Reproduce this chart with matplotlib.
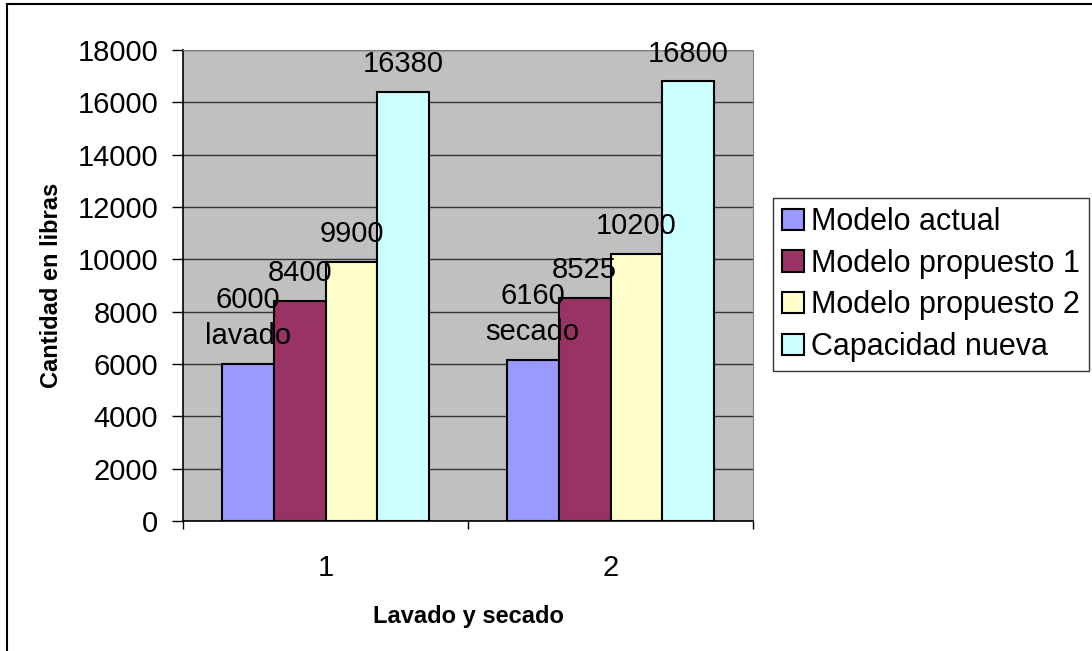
import matplotlib.pyplot as plt
from matplotlib.patches import Rectangle
import numpy as np

plt.rcParams['font.family'] = ['Liberation Sans', 'DejaVu Sans']

# Data
categorias = ['1', '2']
etiquetas_grupo = ['lavado', 'secado']
series = ['Modelo actual', 'Modelo propuesto 1', 'Modelo propuesto 2', 'Capacidad nueva']
modelo_actual = [6000, 6160]
propuesto_1 = [8400, 8525]
propuesto_2 = [9900, 10200]
capacidad_nueva = [16380, 16800]
colores = ['#9999FF', '#993366', '#FFFFCC', '#CCFFFF']

valores = [modelo_actual, propuesto_1, propuesto_2, capacidad_nueva]

fig = plt.figure(figsize=(10.92, 6.51), dpi=100)
ax = fig.add_axes([0.1676, 0.1997, 0.5220, 0.7235])
ax.set_facecolor('#C0C0C0')

x = np.arange(1, len(categorias) + 1)
ancho = 0.182
for i, (nombre, vals, col) in enumerate(zip(series, valores, colores)):
    pos = x + (i - 1.5) * ancho
    ax.bar(pos, vals, width=ancho, color=col, edgecolor='black',
           linewidth=1.5, label=nombre, zorder=3)
    for j, (px, v) in enumerate(zip(pos, vals)):
        texto = f'{v}\n{etiquetas_grupo[j]}' if i == 0 else f'{v}'
        ax.annotate(texto, (px, v), xytext=(0, 10), textcoords='offset points',
                    ha='center', va='bottom', fontsize=21, linespacing=1.35,
                    zorder=4)

ax.set_xlim(0.5, 2.5)
ax.set_ylim(0, 18000)
ax.set_yticks(np.arange(0, 18001, 2000))
ax.yaxis.grid(True, color='#333333', linewidth=1)
ax.set_axisbelow(True)

ax.set_xticks([0.5, 1.5, 2.5])
ax.set_xticklabels([])
ax.set_xticks(x, minor=True)
ax.set_xticklabels(categorias, minor=True)
ax.tick_params(axis='x', which='major', direction='out', length=6, width=1)
ax.tick_params(axis='x', which='minor', length=0, pad=24, labelsize=21)
ax.tick_params(axis='y', direction='out', length=8, width=1, pad=10, labelsize=21)

for s in ['top', 'right']:
    ax.spines[s].set_color('#808080')
for s in ['left', 'bottom']:
    ax.spines[s].set_color('black')
    ax.spines[s].set_linewidth(1.2)

ax.set_xlabel('Lavado y secado', fontsize=17, fontweight='bold', labelpad=16)
ax.set_ylabel('Cantidad en libras', fontsize=17, fontweight='bold', labelpad=10)

leg = ax.legend(loc='upper left', bbox_to_anchor=(0.708, 0.696),
                bbox_transform=fig.transFigure, fontsize=22, frameon=True,
                fancybox=False, edgecolor='black', handlelength=0.7,
                handleheight=0.7, handletextpad=0.23, labelspacing=0.38,
                borderpad=0.3, borderaxespad=0)
leg.get_frame().set_linewidth(1)

# Outer border of the chart (only left and top edges fall inside the image)
fig.patches.append(Rectangle((0.006, -0.1), 1.2, 1.1 - 0.0065, transform=fig.transFigure,
                             fill=False, edgecolor='black', linewidth=1.5))

fig.savefig('out.png', dpi=100)
